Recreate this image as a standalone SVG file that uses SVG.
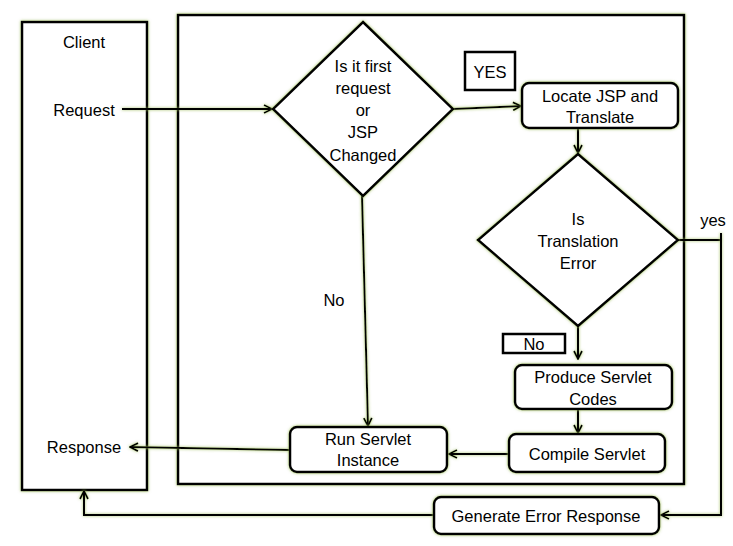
<svg xmlns="http://www.w3.org/2000/svg" width="733" height="546" viewBox="0 0 733 546">
<defs>
<filter id="glow" filterUnits="userSpaceOnUse" x="0" y="0" width="733" height="546">
<feDropShadow dx="0" dy="0" stdDeviation="1.8" flood-color="#9bbb59" flood-opacity="0.9"/>
</filter>
<marker id="arr" viewBox="0 0 10 10" refX="9" refY="5" markerWidth="10" markerHeight="10" markerUnits="userSpaceOnUse" orient="auto">
<path d="M1,1 L9,5 L1,9" fill="none" stroke="#000" stroke-width="1.8"/>
</marker>
<style>
.box{fill:#fff;stroke:#000;stroke-width:2.5;filter:url(#glow)}
.lbl{fill:#fff;stroke:#000;stroke-width:2.5}
.ln{fill:none;stroke:#000;stroke-width:2;filter:url(#glow)}
text{font-family:"Liberation Sans",Arial,sans-serif;font-size:16.5px;fill:#000;text-anchor:middle;dominant-baseline:central}
</style>
</defs>
<rect width="733" height="546" fill="#fff"/>
<g id="client">
<rect class="box" x="22" y="22" width="125" height="468"/>
<text x="84" y="42">Client</text>
<text x="84" y="110">Request</text>
<text x="84" y="447">Response</text>
</g>
<g id="container">
<rect class="box" x="178" y="15" width="506" height="469"/>
</g>
<g id="connectors">
<line class="ln" x1="122" y1="109" x2="272" y2="109" marker-end="url(#arr)"/>
<line class="ln" x1="453" y1="109" x2="521" y2="106" marker-end="url(#arr)"/>
<line class="ln" x1="578" y1="128" x2="578" y2="153" marker-end="url(#arr)"/>
<line class="ln" x1="362" y1="196" x2="368" y2="426" marker-end="url(#arr)"/>
<line class="ln" x1="578" y1="326" x2="578" y2="359" marker-end="url(#arr)"/>
<line class="ln" x1="578" y1="409" x2="578" y2="433" marker-end="url(#arr)"/>
<line class="ln" x1="509" y1="454" x2="449" y2="454" marker-end="url(#arr)"/>
<line class="ln" x1="290" y1="450" x2="130" y2="447" marker-end="url(#arr)"/>
<polyline class="ln" points="678,240 721,240"/>
<polyline class="ln" points="721,233 721,515 661,515" marker-end="url(#arr)"/>
<polyline class="ln" points="434,515 84,515 84,491" marker-end="url(#arr)"/>
</g>
<g id="decision1">
<polygon class="box" points="363,22 453,109 363,196 273,109"/>
<text x="363" y="66">Is it first</text>
<text x="363" y="88">request</text>
<text x="363" y="110">or</text>
<text x="363" y="132">JSP</text>
<text x="363" y="155">Changed</text>
</g>
<g id="yes-label">
<rect class="lbl" x="465" y="52" width="50" height="38"/>
<text x="490" y="72">YES</text>
</g>
<g id="locate">
<rect class="box" x="522" y="83" width="156" height="45" rx="7"/>
<text x="600" y="96">Locate JSP and</text>
<text x="600" y="117">Translate</text>
</g>
<g id="decision2">
<polygon class="box" points="578,154 678,240 578,326 478,240"/>
<text x="578" y="219">Is</text>
<text x="578" y="241">Translation</text>
<text x="578" y="263">Error</text>
</g>
<g id="yes-text">
<text x="713" y="220">yes</text>
</g>
<g id="no-label">
<text x="334" y="300">No</text>
</g>
<g id="no-box">
<rect class="lbl" x="503" y="334" width="62" height="19"/>
<text x="534" y="344">No</text>
</g>
<g id="produce">
<rect class="box" x="515" y="365" width="157" height="44" rx="7"/>
<text x="593" y="377">Produce Servlet</text>
<text x="593" y="399">Codes</text>
</g>
<g id="compile">
<rect class="box" x="509" y="434" width="156" height="38" rx="7"/>
<text x="587" y="454">Compile Servlet</text>
</g>
<g id="run">
<rect class="box" x="290" y="427" width="157" height="45" rx="7"/>
<text x="368" y="439">Run Servlet</text>
<text x="368" y="460">Instance</text>
</g>
<g id="error">
<rect class="box" x="434" y="497" width="225" height="37" rx="7"/>
<text x="546" y="516">Generate Error Response</text>
</g>
</svg>
